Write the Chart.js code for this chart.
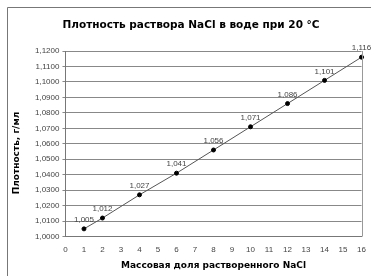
<!DOCTYPE html>
<html>
<head>
<meta charset="utf-8">
<script src="https://cdn.jsdelivr.net/npm/chart.js@4.4.0/dist/chart.umd.min.js"></script>
<style>
  html, body { margin: 0; padding: 0; background: #fff; }
  #wrap { width: 371px; height: 276px; position: relative; }
</style>
</head>
<body>
<div id="wrap"><canvas id="myChart" width="371" height="276"></canvas></div>
<script>
// mass fraction of NaCl, %
const massFraction = [1, 2, 4, 6, 8, 10, 12, 14, 16];
// density, g/ml
const density = [1.005, 1.012, 1.027, 1.041, 1.056, 1.071, 1.086, 1.101, 1.116];
const titleText = "Плотность раствора NaCl в воде при 20 °C";
const xTitle = "Массовая доля растворенного NaCl";
const yTitle = "Плотность, г/мл";

const points = massFraction.map((x, i) => ({ x: x, y: density[i] }));

// sheet border on top/left, right edge of the plot area, titles
const frame = {
  id: 'frame',
  afterDraw(chart) {
    const c = chart.ctx;
    const a = chart.chartArea;
    c.save();
    c.strokeStyle = '#777';
    c.lineWidth = 1;
    c.beginPath();
    c.moveTo(7.5, chart.height);
    c.lineTo(7.5, 7.5);
    c.lineTo(chart.width, 7.5);
    c.stroke();
    c.strokeStyle = '#999';
    c.beginPath();
    c.moveTo(Math.round(a.right) + 0.5, a.top);
    c.lineTo(Math.round(a.right) + 0.5, a.bottom);
    c.stroke();
    // chart title, centred on the sheet rather than on the plot
    c.font = 'bold 10.5px "DejaVu Sans", sans-serif';
    c.fillStyle = '#000';
    c.textAlign = 'center';
    c.textBaseline = 'middle';
    c.fillText(titleText, 191, 25);
    // y axis title, sits a bit lower than the plot centre in the original
    c.translate(17, 153);
    c.rotate(-Math.PI / 2);
    c.font = 'bold 9px "DejaVu Sans", sans-serif';
    c.fillText(yTitle, 0, 0);
    c.restore();
  }
};

// value labels above each point
const valueLabels = {
  id: 'valueLabels',
  afterDatasetsDraw(chart) {
    const c = chart.ctx;
    const meta = chart.getDatasetMeta(0);
    c.save();
    c.font = '8px "Liberation Sans", Arial, sans-serif';
    c.fillStyle = '#444';
    c.textAlign = 'center';
    c.textBaseline = 'bottom';
    meta.data.forEach((el, i) => {
      c.fillText(density[i].toFixed(3).replace('.', ','), el.x, el.y - 5);
    });
    c.restore();
  }
};

const myChart = new Chart(document.getElementById('myChart').getContext('2d'), {
  type: 'scatter',
  data: {
    datasets: [{
      data: points,
      showLine: true,
      borderColor: '#555',
      borderWidth: 1,
      pointRadius: 2,
      pointBackgroundColor: '#000',
      pointBorderColor: '#000',
      clip: false
    }]
  },
  options: {
    responsive: false,
    animation: false,
    layout: { padding: { left: 32, top: 51, right: 8, bottom: 1 } },
    plugins: {
      legend: { display: false },
      tooltip: { enabled: false },
      title: { display: false }
    },
    scales: {
      x: {
        type: 'linear',
        min: 0,
        max: 16,
        ticks: {
          stepSize: 1,
          color: '#444',
          font: { family: '"Liberation Sans", Arial, sans-serif', size: 8 },
          padding: 5
        },
        grid: { display: false, drawOnChartArea: false, drawTicks: true, tickLength: 3, color: '#777' },
        border: { color: '#777' },
        title: {
          display: true,
          text: xTitle,
          color: '#000',
          font: { family: '"DejaVu Sans", sans-serif', size: 9, weight: 'bold' },
          padding: { top: 1 }
        }
      },
      y: {
        min: 1.0,
        max: 1.12,
        ticks: {
          stepSize: 0.01,
          color: '#444',
          font: { family: '"Liberation Sans", Arial, sans-serif', size: 8 },
          padding: 3,
          callback: (v) => v.toFixed(4).replace('.', ',')
        },
        grid: { color: '#888', tickLength: 3 },
        border: { color: '#777' }
      }
    }
  },
  plugins: [frame, valueLabels]
});
</script>
</body>
</html>
